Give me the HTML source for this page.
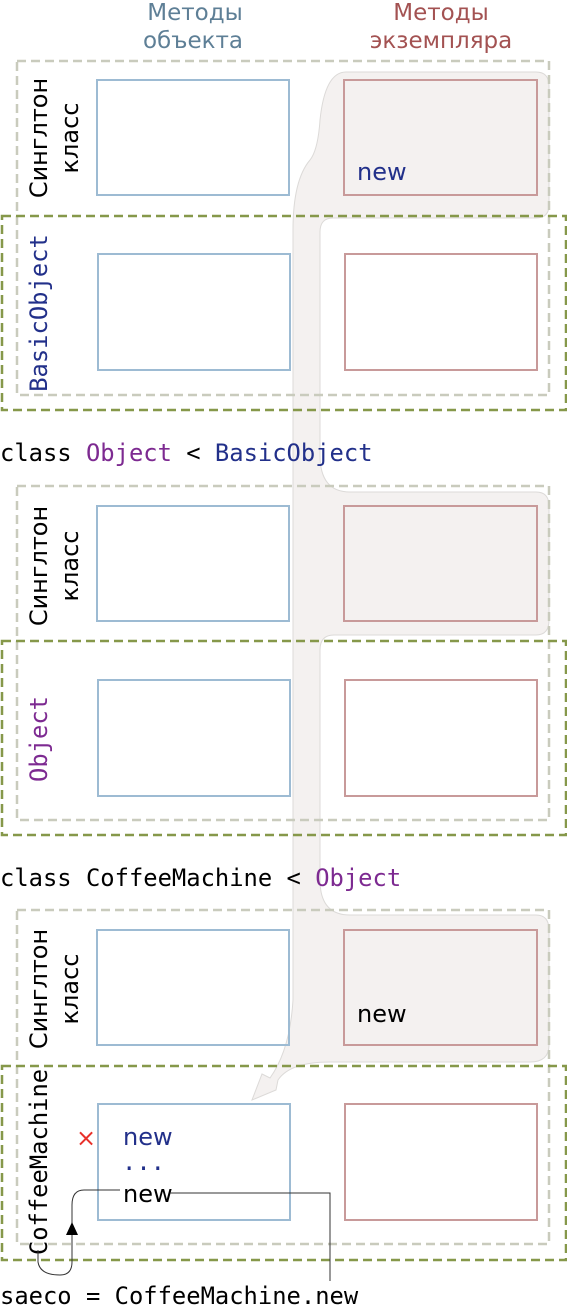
<!DOCTYPE html>
<html><head><meta charset="utf-8"><style>
html,body{margin:0;padding:0;background:#fff;}
svg{display:block;}
.s{font-family:"DejaVu Sans","Liberation Sans",sans-serif;font-size:24px;}
.h{font-family:"DejaVu Sans","Liberation Sans",sans-serif;font-size:23px;}
.m{font-family:"DejaVu Sans Mono","Liberation Mono",monospace;font-size:23.8px;}
</style></head><body>
<svg width="567" height="1306" viewBox="0 0 567 1306" xmlns="http://www.w3.org/2000/svg">
<path d="M346,72 H536 Q549,72 549,86 V205 Q549,218 536,218 H333 Q320,218 320,232 V455 Q320,492 350,492 H536 Q549,492 549,506 V620 Q549,635 536,635 H334 Q320,635 320,650 V880 Q320,915 350,915 H536 Q549,915 549,930 V1045 Q549,1062 530,1062 H330 Q290,1062 278,1080 L276,1090 L252,1100 L262,1074 L270,1078 Q290,1050 293,1000 V230 Q293,180 310,160 Q318,150 320,120 Q325,72 346,72 Z" fill="#f4f1f0" stroke="#dcdad8" stroke-width="1"/>

<text class="h" x="195" y="20" text-anchor="middle" fill="#5e7f96">Методы</text>
<text class="h" x="193" y="48" text-anchor="middle" fill="#5e7f96">объекта</text>
<text class="h" x="441" y="20" text-anchor="middle" fill="#a35252">Методы</text>
<text class="h" x="441" y="48" text-anchor="middle" fill="#a35252">экземпляра</text>

<g fill="none" stroke-width="2.5">
<rect x="17" y="61" width="532" height="334" stroke="#c9cbbd" stroke-dasharray="9,5"/>
<rect x="2" y="216" width="564" height="194" stroke="#86984a" stroke-dasharray="9,5"/>
<rect x="17" y="486" width="532" height="334" stroke="#c9cbbd" stroke-dasharray="9,5"/>
<rect x="2" y="641" width="564" height="194" stroke="#86984a" stroke-dasharray="9,5"/>
<rect x="17" y="910" width="532" height="334" stroke="#c9cbbd" stroke-dasharray="9,5"/>
<rect x="2" y="1066" width="564" height="194" stroke="#86984a" stroke-dasharray="9,5"/>
</g>
<g fill="none" stroke-width="2">
<rect x="97" y="80" width="192" height="115" stroke="#9dbbd3"/>
<rect x="344" y="80" width="193" height="115" stroke="#c89a9a"/>
<rect x="98" y="254" width="192" height="116" stroke="#9dbbd3"/>
<rect x="345" y="254" width="192" height="116" stroke="#c89a9a"/>
<rect x="97" y="506" width="192" height="115" stroke="#9dbbd3"/>
<rect x="344" y="506" width="193" height="115" stroke="#c89a9a"/>
<rect x="98" y="680" width="192" height="116" stroke="#9dbbd3"/>
<rect x="345" y="680" width="192" height="116" stroke="#c89a9a"/>
<rect x="97" y="930" width="192" height="115" stroke="#9dbbd3"/>
<rect x="344" y="930" width="193" height="115" stroke="#c89a9a"/>
<rect x="98" y="1104" width="192" height="116" stroke="#9dbbd3"/>
<rect x="345" y="1104" width="192" height="116" stroke="#c89a9a"/>
</g>

<text class="s" transform="translate(47,138) rotate(-90)" text-anchor="middle" fill="#000">Синглтон</text>
<text class="s" transform="translate(78,138) rotate(-90)" text-anchor="middle" fill="#000">класс</text>
<text class="m" transform="translate(47,313) rotate(-90)" text-anchor="middle" fill="#22308a">BasicObject</text>

<text class="s" transform="translate(47,566) rotate(-90)" text-anchor="middle" fill="#000">Синглтон</text>
<text class="s" transform="translate(78,566) rotate(-90)" text-anchor="middle" fill="#000">класс</text>
<text class="m" transform="translate(47,739) rotate(-90)" text-anchor="middle" fill="#7d2a91">Object</text>

<text class="s" transform="translate(47,989) rotate(-90)" text-anchor="middle" fill="#000">Синглтон</text>
<text class="s" transform="translate(78,989) rotate(-90)" text-anchor="middle" fill="#000">класс</text>
<text class="m" transform="translate(47,1162) rotate(-90)" text-anchor="middle" fill="#000">CoffeeMachine</text>

<text class="m" x="0" y="461" fill="#000">class <tspan fill="#7d2a91">Object</tspan> &lt; <tspan fill="#22308a">BasicObject</tspan></text>
<text class="m" x="0" y="886" fill="#000">class CoffeeMachine &lt; <tspan fill="#7d2a91">Object</tspan></text>
<text class="m" x="0" y="1304" fill="#000">saeco = CoffeeMachine.new</text>

<text class="s" x="357" y="180" fill="#22308a">new</text>
<text class="s" x="357" y="1022" fill="#000">new</text>
<text class="s" x="123" y="1145" fill="#22308a">new</text>
<text class="m" x="122" y="1170" fill="#22308a">...</text>
<text class="s" x="123" y="1202" fill="#000">new</text>
<text class="s" x="76" y="1146" fill="#e8302a">×</text>

<path d="M170,1193 H330 V1281" fill="none" stroke="#333" stroke-width="1"/>
<path d="M120,1190 H84 Q72,1190 72,1205 V1262 Q72,1275 60,1275 Q40,1275 38,1262 V1250" fill="none" stroke="#333" stroke-width="1"/>
<path d="M72,1222 L66,1235 H78 Z" fill="#000"/>
</svg>
</body></html>
